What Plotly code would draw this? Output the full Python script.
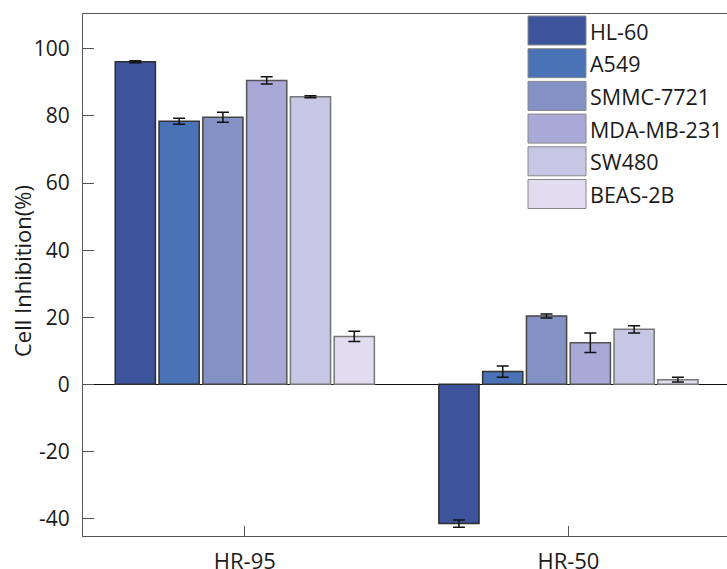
import plotly.graph_objects as go

# ---- data ----
categories = ["HR-95", "HR-50"]
cell_lines = ["HL-60", "A549", "SMMC-7721", "MDA-MB-231", "SW480", "BEAS-2B"]
values = {
    "HL-60":      [96.2, -41.5],
    "A549":       [78.4, 3.8],
    "SMMC-7721":  [79.6, 20.4],
    "MDA-MB-231": [90.6, 12.4],
    "SW480":      [85.7, 16.4],
    "BEAS-2B":    [14.3, 1.4],
}
errors = {
    "HL-60":      [0.3, 1.1],
    "A549":       [0.9, 1.7],
    "SMMC-7721":  [1.5, 0.6],
    "MDA-MB-231": [1.1, 2.9],
    "SW480":      [0.3, 1.1],
    "BEAS-2B":    [1.5, 0.7],
}
y_ticks = [-40, -20, 0, 20, 40, 60, 80, 100]
y_tick_labels = ["-40", "-20", "0", "20", "40", "60", "80", "100"]

# ---- style ----
colors = ["#3d539c", "#4a72b6", "#8491c5", "#a8a9d7", "#c5c7e4", "#e1dcef"]
edges = ["#2e2e2e", "#333333", "#444444", "#555555", "#777777", "#777777"]
FONT = "Open Sans"
TXT = "#1a1a1a"
W, H = 727, 569
ML, MR, MT, MB = 83, 0, 14, 33
PW, PH = W - ML - MR, H - MT - MB

fig = go.Figure()
for i, name in enumerate(cell_lines):
    fig.add_trace(go.Bar(
        x=categories, y=values[name], name=name,
        marker=dict(color=colors[i], line=dict(color=edges[i], width=1.5)),
        error_y=dict(type="data", array=errors[name], color="#111111",
                     thickness=1.5, width=6),
        showlegend=False, hoverinfo="skip",
    ))

def px2paper(px, py):
    return (px - ML) / PW, 1 - (py - MT) / PH

shapes = []
annotations = []
for i, name in enumerate(cell_lines):
    top = 16 + i * 32.7
    x0, y0 = px2paper(528, top)
    x1, y1 = px2paper(586, top + 29)
    shapes.append(dict(type="rect", xref="paper", yref="paper",
                       x0=x0, x1=x1, y0=y1, y1=y0,
                       fillcolor=colors[i], line=dict(color="#888888", width=1)))
    tx, ty = px2paper(588, top + 15)
    annotations.append(dict(text=name, xref="paper", yref="paper", x=tx, y=ty,
                            xanchor="left", yanchor="middle", showarrow=False,
                            font=dict(family=FONT, size=21.5, color=TXT)))

tx, ty = px2paper(22, 271)
annotations.append(dict(text="Cell Inhibition(%)", xref="paper", yref="paper",
                        x=tx, y=ty, textangle=-90, xanchor="center", yanchor="middle",
                        showarrow=False, font=dict(family=FONT, size=22, color=TXT)))

fig.update_layout(
    width=W, height=H,
    margin=dict(l=ML, r=MR, t=MT, b=MB, autoexpand=False),
    paper_bgcolor="white", plot_bgcolor="white",
    barmode="group", bargap=0.188, bargroupgap=0.083,
    font=dict(family=FONT, size=21, color=TXT),
    shapes=shapes, annotations=annotations, hovermode=False,
    xaxis=dict(type="category", range=[-0.5, 1.49],
               showline=True, linecolor="#555555", linewidth=1, mirror=True,
               ticks="inside", ticklen=10, tickcolor="#555555",
               tickfont=dict(size=22), ticklabelstandoff=6,
               showgrid=False, zeroline=False),
    yaxis=dict(range=[-45.2, 110.4], tickvals=y_ticks, ticktext=y_tick_labels,
               showline=True, linecolor="#555555", linewidth=1, mirror=False,
               ticks="inside", ticklen=11, tickcolor="#555555",
               ticklabelstandoff=8,
               showgrid=False, zeroline=True, zerolinecolor="#111111", zerolinewidth=1.5),
)

fig.write_html("out.html", config={"staticPlot": True, "displayModeBar": False},
               post_script="document.body.style.margin='0';document.body.style.overflow='hidden';")
